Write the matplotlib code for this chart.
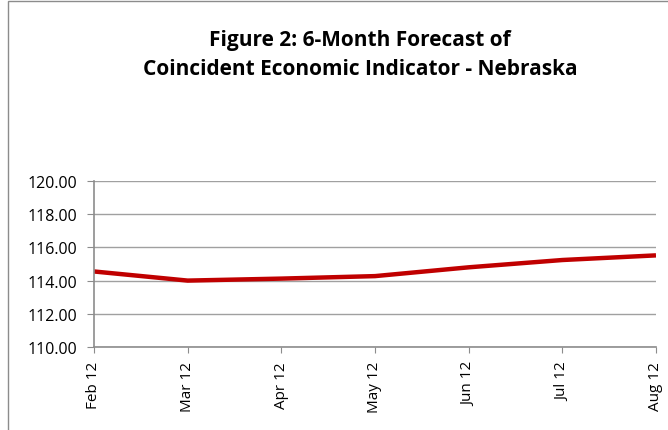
import matplotlib.pyplot as plt
from matplotlib.patches import Rectangle

months = ["Feb 12", "Mar 12", "Apr 12", "May 12", "Jun 12", "Jul 12", "Aug 12"]
forecast = [114.55, 114.0, 114.12, 114.27, 114.8, 115.24, 115.52]
y_ticks = [110, 112, 114, 116, 118, 120]

plt.rcParams["font.family"] = ["Open Sans", "DejaVu Sans"]

fig = plt.figure(figsize=(6.68, 4.31), dpi=100)
ax = fig.add_axes([0.1407, 0.1926, 0.8413, 0.3851])

# outer chart frame
fig.patches.append(
    Rectangle((0.012, -0.01), 1.0, 1.005, transform=fig.transFigure,
              fill=False, edgecolor="#8c8c8c", linewidth=1.0)
)

x = range(len(months))
ax.plot(x, forecast, color="#c00000", linewidth=3.2, solid_capstyle="butt")

ax.set_xlim(0, len(months) - 1)
ax.set_ylim(110, 120)
ax.set_yticks(y_ticks)
ax.set_yticklabels([f"{v:.2f}" for v in y_ticks], fontsize=11.5)
ax.set_xticks(list(x))
ax.set_xticklabels(months, rotation=90, fontsize=11)
ax.grid(axis="y", color="#a0a0a0", linewidth=1.0)
ax.set_axisbelow(True)

for side in ["top", "right"]:
    ax.spines[side].set_visible(False)
for side in ["left", "bottom"]:
    ax.spines[side].set_color("#8c8c8c")
    ax.spines[side].set_linewidth(1.2)
ax.tick_params(axis="y", direction="out", length=5, color="#8c8c8c", pad=7)
ax.tick_params(axis="x", direction="out", length=4, color="#8c8c8c", pad=6)

fig.text(0.539, 0.907, "Figure 2: 6-Month Forecast of", ha="center", va="center",
         fontsize=15, fontweight="bold")
fig.text(0.539, 0.838, "Coincident Economic Indicator - Nebraska", ha="center",
         va="center", fontsize=15, fontweight="bold")

fig.savefig("out.png", dpi=100)
